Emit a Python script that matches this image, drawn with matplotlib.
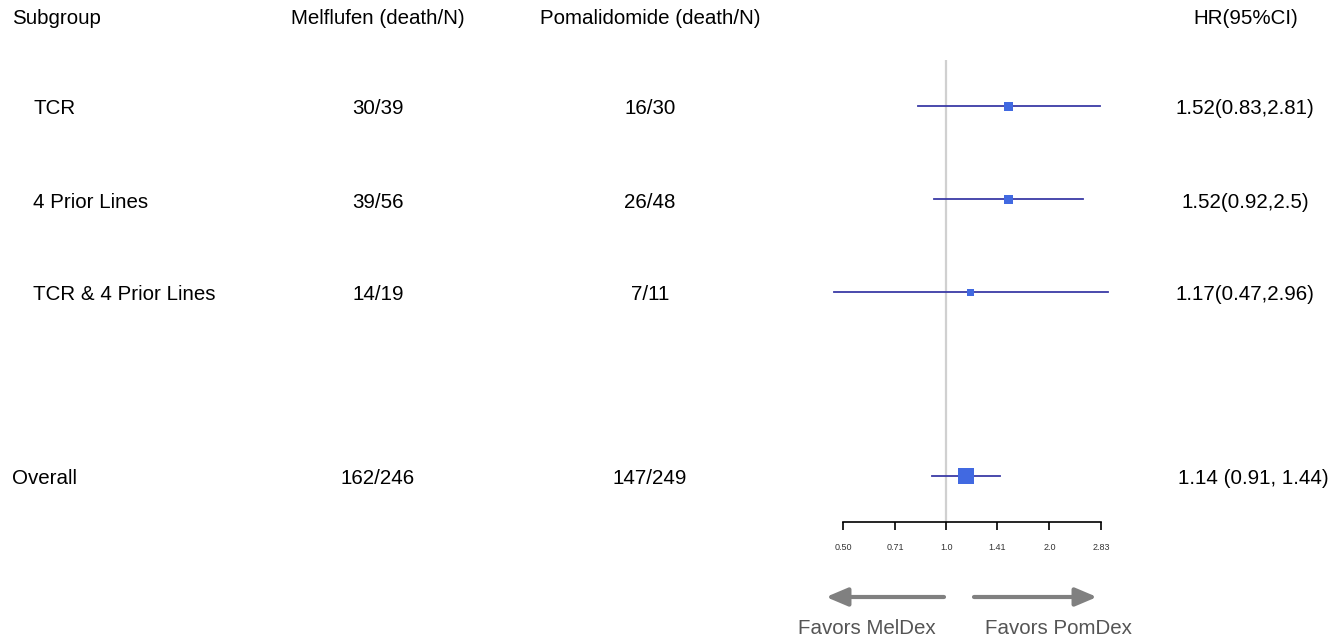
import matplotlib.pyplot as plt

plt.rcParams["font.family"] = ["Liberation Sans", "DejaVu Sans"]

W, H = 1335, 638

subgroups = ["TCR", "4 Prior Lines", "TCR & 4 Prior Lines", "Overall"]
melflufen = ["30/39", "39/56", "14/19", "162/246"]
pomalidomide = ["16/30", "26/48", "7/11", "147/249"]
hr = [1.52, 1.52, 1.17, 1.14]
ci_low = [0.83, 0.92, 0.47, 0.91]
ci_high = [2.81, 2.5, 2.96, 1.44]
hr_labels = ["1.52(0.83,2.81)", "1.52(0.92,2.5)", "1.17(0.47,2.96)", "1.14 (0.91, 1.44)"]
tick_vals = [0.5, 0.71, 1.0, 1.41, 2.0, 2.83]
tick_labels = ["0.50", "0.71", "1.0", "1.41", "2.0", "2.83"]

row_y = [107, 200, 293, 477]
box_size = [9, 9, 7, 16]
header_y = 18
FS = 14.8

fig = plt.figure(figsize=(W / 100, H / 100), dpi=100)
fig.patch.set_facecolor("white")

# full-figure axes in pixel units for the text table
tab = fig.add_axes([0, 0, 1, 1])
tab.set_xlim(0, W)
tab.set_ylim(H, 0)
tab.axis("off")

tab.text(12, header_y, "Subgroup", fontsize=FS, ha="left", va="center")
tab.text(378, header_y, "Melflufen (death/N)", fontsize=FS, ha="center", va="center")
tab.text(650, header_y, "Pomalidomide (death/N)", fontsize=FS, ha="center", va="center")
tab.text(1246, header_y, "HR(95%CI)", fontsize=FS, ha="center", va="center")

for i, name in enumerate(subgroups):
    y = row_y[i] + 2
    x0 = 12 if name == "Overall" else 33
    tab.text(x0, y, name, fontsize=FS, ha="left", va="center")
    tab.text(378, y, melflufen[i], fontsize=FS, ha="center", va="center")
    tab.text(650, y, pomalidomide[i], fontsize=FS, ha="center", va="center")
    tab.text(1253 if name == "Overall" else 1245, y, hr_labels[i], fontsize=FS,
             ha="center", va="center")

# favours arrows
arrow = dict(arrowstyle="-|>,head_length=1.3,head_width=0.55", color="#808080", lw=3,
             shrinkA=0, shrinkB=0)
tab.annotate("", xy=(826, 597), xytext=(944, 597), arrowprops=arrow)
tab.annotate("", xy=(1097, 597), xytext=(974, 597), arrowprops=arrow)
tab.text(867, 628, "Favors MelDex", fontsize=FS, color="#555555", ha="center", va="center")
tab.text(1058, 628, "Favors PomDex", fontsize=FS, color="#555555", ha="center", va="center")

# forest panel on a log2 axis
ax_left, ax_right, ax_top, ax_bottom = 843, 1101, 60, 522
ax = fig.add_axes([ax_left / W, 1 - ax_bottom / H, (ax_right - ax_left) / W,
                   (ax_bottom - ax_top) / H])
ax.set_xscale("log", base=2)
ax.set_xlim(0.5, 2.83)
ax.set_ylim(ax_bottom, ax_top)
ax.patch.set_alpha(0)
for side in ["top", "left", "right"]:
    ax.spines[side].set_visible(False)
ax.spines["bottom"].set_linewidth(1.2)
ax.set_yticks([])
ax.set_xticks(tick_vals)
ax.set_xticklabels(tick_labels)
ax.minorticks_off()
ax.tick_params(axis="x", direction="out", length=6, width=1.2, labelsize=6.5,
               pad=9, labelcolor="#333333")

ax.axvline(1.0, color="#d0d0d0", lw=1.6, zorder=0)

for i in range(len(subgroups)):
    y = row_y[i] - 1
    ax.plot([ci_low[i], ci_high[i]], [y, y], color="#3a3aa6", lw=1.3,
            clip_on=False, zorder=2)
    ax.plot(hr[i], y, marker="s", markersize=box_size[i] * 0.72,
            color="#4169e1", markeredgewidth=0, clip_on=False, zorder=3)

fig.savefig("out.png", dpi=100, facecolor="white")
